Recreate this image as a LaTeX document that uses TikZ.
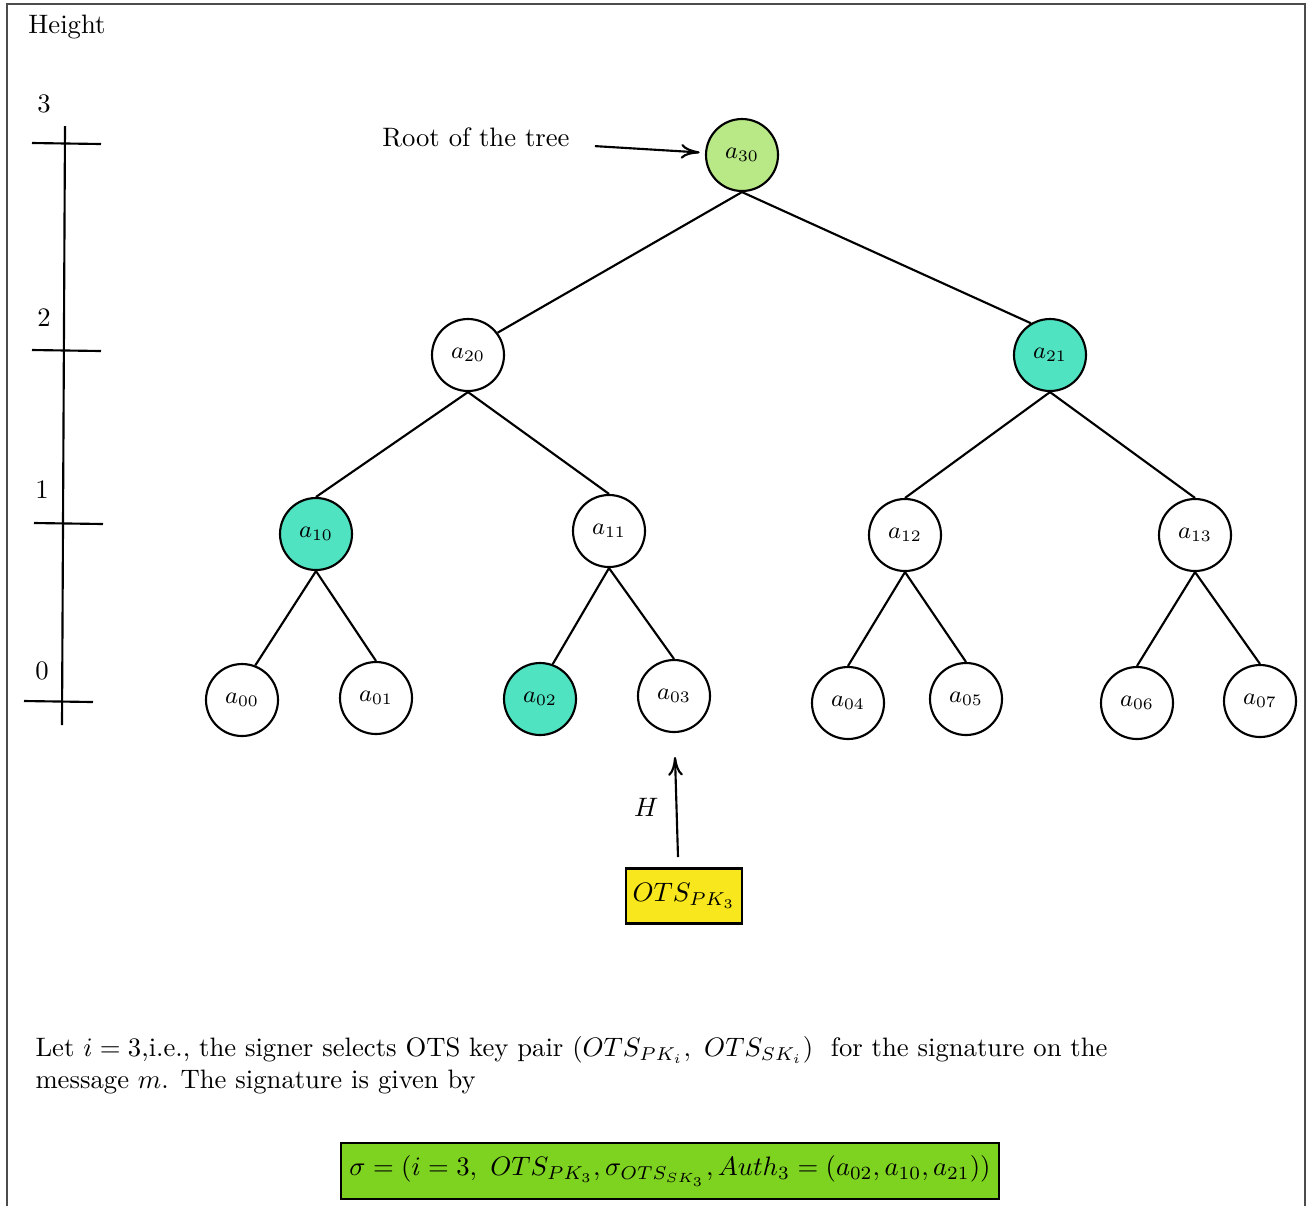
\documentclass[tikz,border=0pt]{standalone}
\usepackage{amsmath}
\usetikzlibrary{arrows.meta}
\definecolor{rootgreen}{HTML}{B8E986}
\definecolor{authteal}{HTML}{50E3C2}
\definecolor{otsyellow}{HTML}{F8E71C}
\definecolor{siggreen}{HTML}{7ED321}
\begin{document}
\begin{tikzpicture}[x=0.375pt,y=-0.375pt,
		tnode/.style={circle, draw, thick, minimum size=27pt, inner sep=0pt, font=\small},
		tbox/.style={draw, thick, inner sep=0pt},
		arr/.style={thick, -{To[length=7pt,width=5.5pt]}}]
		\useasboundingbox (0,0) rectangle (1309,1205);
		\draw[gray!60!black] (7,1215) |- (1305,4) -- (1305,1215);
		% height scale on the left
		\node (hgt) at (67,27) {Height};
		\draw[thick] (65,126) -- (62,725);
		\draw[thick] (32,143) -- (101,144);
		\draw[thick] (32,350) -- (101,351);
		\draw[thick] (34,523) -- (103,524);
		\draw[thick] (24,701) -- (93,702);
		\node (h3) at (44,104) {3};
		\node (h2) at (44,318) {2};
		\node (h1) at (42,490) {1};
		\node (h0) at (42,671) {0};
		% the tree
		\node[tnode, fill=rootgreen] (a30) at (742,155) {$a_{30}$};
		\node[tnode] (a20) at (468,355) {$a_{20}$};
		\node[tnode, fill=authteal] (a21) at (1050,355) {$a_{21}$};
		\node[tnode, fill=authteal] (a10) at (316,534) {$a_{10}$};
		\node[tnode] (a11) at (609,531) {$a_{11}$};
		\node[tnode] (a12) at (905,535) {$a_{12}$};
		\node[tnode] (a13) at (1195,535) {$a_{13}$};
		\node[tnode] (a00) at (242,700) {$a_{00}$};
		\node[tnode] (a01) at (376,698) {$a_{01}$};
		\node[tnode, fill=authteal] (a02) at (540,699) {$a_{02}$};
		\node[tnode] (a03) at (674,696) {$a_{03}$};
		\node[tnode] (a04) at (848,703) {$a_{04}$};
		\node[tnode] (a05) at (966,699) {$a_{05}$};
		\node[tnode] (a06) at (1137,703) {$a_{06}$};
		\node[tnode] (a07) at (1260,701) {$a_{07}$};
		\draw[thick] (a30.south) -- (a20.37);
		\draw[thick] (a30.south) -- (a21.121);
		\draw[thick] (a20.south) -- (a10.north);
		\draw[thick] (a20.south) -- (a11.north);
		\draw[thick] (a21.south) -- (a12.north);
		\draw[thick] (a21.south) -- (a13.north);
		\draw[thick] (a10.south) -- (a00.69);
		\draw[thick] (a10.south) -- (a01.north);
		\draw[thick] (a11.south) -- (a02.70);
		\draw[thick] (a11.south) -- (a03.north);
		\draw[thick] (a12.south) -- (a04.north);
		\draw[thick] (a12.south) -- (a05.north);
		\draw[thick] (a13.south) -- (a06.north);
		\draw[thick] (a13.south) -- (a07.north);
		\node (root) at (476,137) {Root of the tree};
		\draw[arr, shorten >=2pt] ([xshift=6pt]root.base east) -- (a30);
		% leaf key and hash
		\node[tbox, fill=otsyellow, minimum width=43.5pt, minimum height=20.6pt] (ots) at (684,896) {$OTS_{PK_3}$};
		\coordinate (hin) at (675,757);
		\draw[arr] ([xshift=-2.25pt,yshift=3.9pt]ots.north) -- (hin) node[midway, left, xshift=-3pt]{$H$};
		% signature
		\node[anchor=north west, align=left, inner sep=0pt] (txt) at (35,1036) {Let $i=3$,i.e., the signer selects OTS key pair $(OTS_{PK_i},\ OTS_{SK_i})$ \ for the signature on the\\ message $m$. The signature is given by};
		\node[tbox, fill=siggreen, minimum width=246.75pt, minimum height=21pt] (sig) at (670,1171) {$\sigma=(i=3,\ OTS_{PK_3},\sigma_{OTS_{SK_3}},Auth_3=(a_{02},a_{10},a_{21}))$};
\end{tikzpicture}
\end{document}
